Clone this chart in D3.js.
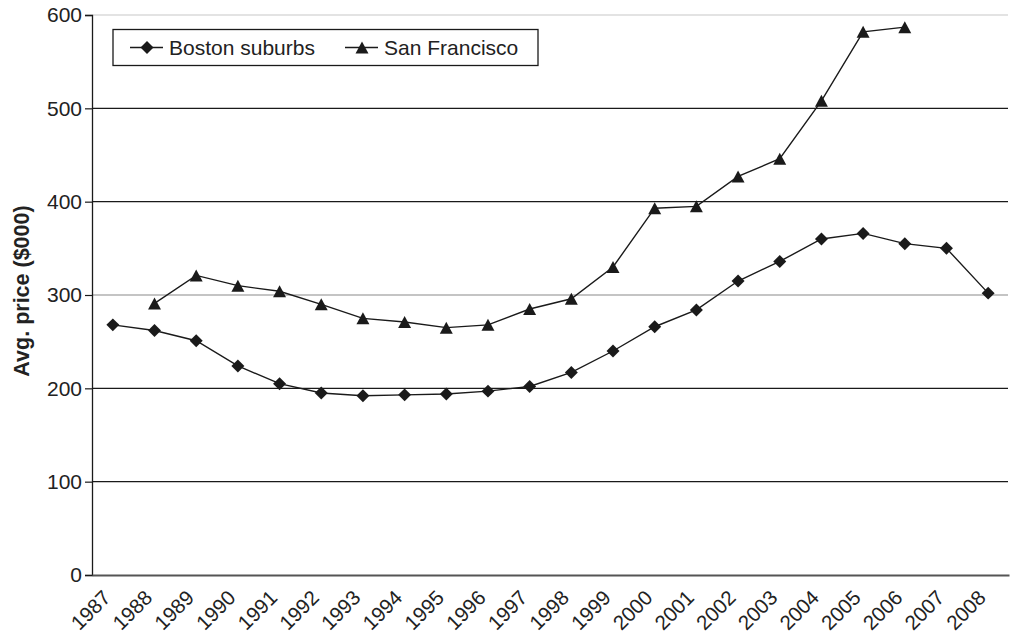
<!DOCTYPE html>
<html>
<head>
<meta charset="utf-8">
<script src="https://cdn.jsdelivr.net/npm/d3@7"></script>
<style>
  html, body { margin: 0; padding: 0; background: #fff; }
  svg { display: block; }
  text { font-family: "Liberation Sans", Arial, Helvetica, sans-serif; fill: #222; }
</style>
</head>
<body>
<svg id="chart" width="1010" height="633"></svg>
<script>
// Average house prices, thousands of dollars
const years = ["1987","1988","1989","1990","1991","1992","1993","1994","1995","1996","1997",
               "1998","1999","2000","2001","2002","2003","2004","2005","2006","2007","2008"];
const bostonSuburbs = [268, 262, 251, 224, 205, 195, 192, 193, 194, 197, 202,
                       217, 240, 266, 284, 315, 336, 360, 366, 355, 350, 302];
// San Francisco series starts in 1988 and ends in 2006
const sanFrancisco = [null, 291, 321, 310, 304, 290, 275, 271, 265, 268, 285,
                      296, 330, 393, 395, 427, 446, 508, 582, 587, null, null];
const yTicks = [0, 100, 200, 300, 400, 500, 600];
const seriesNames = ["Boston suburbs", "San Francisco"];
const yTitle = "Avg. price ($000)";

const svg = d3.select("#chart");
const plot = { left: 92, right: 1009, top: 15, bottom: 575 };

const x = d3.scaleBand().domain(years).range([plot.left, plot.right]);
const cx = d => x(d) + x.bandwidth() / 2;
const y = d3.scaleLinear().domain([0, 600]).range([plot.bottom, plot.top]);

// marker shapes
const diamond = {
  draw(ctx, size) {
    const r = Math.sqrt(size / 2);
    ctx.moveTo(0, -r); ctx.lineTo(r, 0); ctx.lineTo(0, r); ctx.lineTo(-r, 0); ctx.closePath();
  }
};
const triangle = {
  draw(ctx, size) {
    const h = Math.sqrt(size);
    ctx.moveTo(0, -h / 2); ctx.lineTo(h * 0.54, h / 2); ctx.lineTo(-h * 0.54, h / 2); ctx.closePath();
  }
};
const diamondPath = d3.symbol().type(diamond).size(84)();
const trianglePath = d3.symbol().type(triangle).size(144)();

// horizontal gridlines
const gridColor = v => (v === 600 ? "#c8c8c8" : v === 300 ? "#8a8a8a" : "#1a1a1a");
svg.append("g").selectAll("line")
  .data(yTicks.filter(v => v > 0))
  .join("line")
  .attr("x1", plot.left).attr("x2", plot.right - 1)
  .attr("y1", d => y(d)).attr("y2", d => y(d))
  .attr("stroke", d => gridColor(d))
  .attr("stroke-width", 1.2);

// y axis
const yAxis = d3.axisLeft(y).tickValues(yTicks).tickSize(7).tickPadding(3).tickFormat(d3.format("d"));
const yg = svg.append("g").attr("transform", `translate(${plot.left},0)`).call(yAxis);
yg.select(".domain").attr("stroke", "#1a1a1a").attr("stroke-width", 1.3);
yg.selectAll(".tick line").attr("stroke", "#1a1a1a").attr("stroke-width", 1.2);
yg.selectAll(".tick text")
  .attr("font-size", 21).attr("fill", "#222")
  .style("font-family", "'Liberation Sans', Arial, sans-serif");

// x axis
const xAxis = d3.axisBottom(x).tickSize(0).tickPadding(0);
const xg = svg.append("g").attr("transform", `translate(0,${plot.bottom})`).call(xAxis);
xg.select(".domain").attr("stroke", "#555").attr("stroke-width", 1.8);
xg.selectAll(".tick text")
  .attr("font-size", 20.5).attr("fill", "#222")
  .style("font-family", "'Liberation Sans', Arial, sans-serif")
  .attr("text-anchor", "end")
  .attr("y", 0).attr("dy", 0)
  .attr("transform", "translate(-1,24) rotate(-45)");

// y axis title
svg.append("text")
  .attr("transform", `translate(29,291) rotate(-90)`)
  .attr("text-anchor", "middle")
  .attr("font-size", 21.5)
  .attr("font-weight", "bold")
  .text(yTitle);

// series lines and markers
const line = d3.line()
  .defined(d => d.v != null)
  .x(d => cx(d.year))
  .y(d => y(d.v));

const series = [
  { name: seriesNames[0], values: bostonSuburbs, marker: diamondPath },
  { name: seriesNames[1], values: sanFrancisco, marker: trianglePath }
];

series.forEach(s => {
  const pts = years.map((yr, i) => ({ year: yr, v: s.values[i] }));
  svg.append("path")
    .datum(pts)
    .attr("fill", "none")
    .attr("stroke", "#1a1a1a")
    .attr("stroke-width", 1.4)
    .attr("d", line);
  svg.append("g").selectAll("path")
    .data(pts.filter(d => d.v != null))
    .join("path")
    .attr("d", s.marker)
    .attr("fill", "#1a1a1a")
    .attr("transform", d => `translate(${cx(d.year)},${y(d.v)})`);
});

// legend
const lg = svg.append("g");
lg.append("rect")
  .attr("x", 113).attr("y", 29.5).attr("width", 425).attr("height", 36)
  .attr("fill", "#fff").attr("stroke", "#1a1a1a").attr("stroke-width", 1.3);
const legendItems = [
  { x: 130, textX: 169, name: seriesNames[0], marker: diamondPath },
  { x: 345, textX: 384, name: seriesNames[1], marker: trianglePath }
];
legendItems.forEach(it => {
  lg.append("line")
    .attr("x1", it.x).attr("x2", it.x + 33).attr("y1", 47.5).attr("y2", 47.5)
    .attr("stroke", "#1a1a1a").attr("stroke-width", 1.4);
  lg.append("path").attr("d", it.marker).attr("fill", "#1a1a1a")
    .attr("transform", `translate(${it.x + 17},47.5)`);
  lg.append("text")
    .attr("x", it.textX).attr("y", 47.5).attr("dy", "0.36em")
    .attr("font-size", 21)
    .text(it.name);
});
</script>
</body>
</html>
